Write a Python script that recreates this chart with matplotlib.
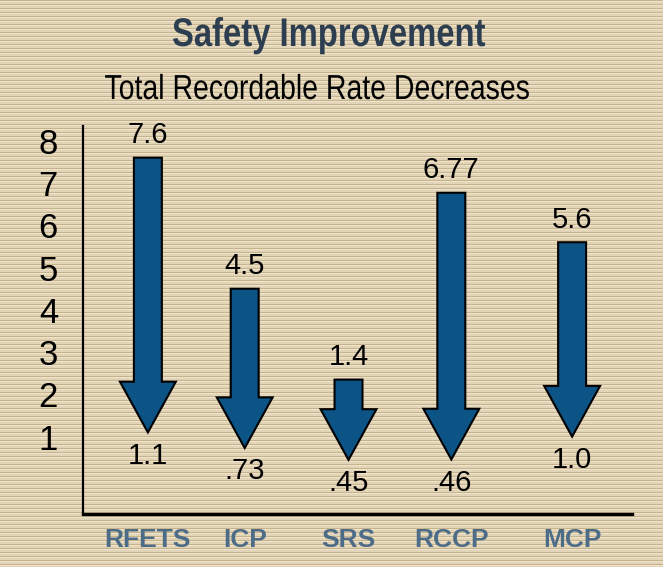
import numpy as np
import matplotlib
matplotlib.use("Agg")
import matplotlib.pyplot as plt
from matplotlib.patches import FancyArrow, PathPatch
from matplotlib.textpath import TextPath
from matplotlib.font_manager import FontProperties
from matplotlib.transforms import Affine2D
from matplotlib.colors import to_rgb

# data
sites = ["RFETS", "ICP", "SRS", "RCCP", "MCP"]
rate_before = [7.6, 4.5, 1.4, 6.77, 5.6]
rate_after = [1.1, 0.73, 0.45, 0.46, 1.0]
before_labels = ["7.6", "4.5", "1.4", "6.77", "5.6"]
after_labels = ["1.1", ".73", ".45", ".46", "1.0"]
yticks = [1, 2, 3, 4, 5, 6, 7, 8]

W, H = 663, 567
fig = plt.figure(figsize=(W / 100, H / 100), dpi=100)

# striped beige background
stripe = [to_rgb(c) for c in ["#c7b28a", "#ede4d0", "#e1d4b7", "#e1d4b7"]]
rows = np.array([stripe[i % 4] for i in range(H)]).reshape(H, 1, 3)
bg = fig.add_axes([0, 0, 1, 1], zorder=-1)
bg.imshow(rows, aspect="auto", interpolation="nearest")
bg.set_axis_off()

sans = ["Liberation Sans", "DejaVu Sans"]


def narrow_text(s, cx, baseline, size_px, weight, color, squeeze=0.82):
    # no narrow font installed: squeeze a text path horizontally
    prop = FontProperties(family="Liberation Sans", weight=weight)
    tp = TextPath((0, 0), s, size=size_px, prop=prop)
    ext = tp.get_extents()
    w = ext.width * squeeze
    tr = Affine2D().scale(squeeze, 1).translate(cx - w / 2 - ext.x0 * squeeze, H - baseline)
    fig.add_artist(PathPatch(tr.transform_path(tp), facecolor=color, edgecolor="none",
                             transform=None))


narrow_text("Safety Improvement", 329, 46, 40, "bold", "#2c3e50")
narrow_text("Total Recordable Rate Decreases", 317, 99, 34.7, "normal", "black")

# main axes: pixel box x 83..632, y 126..514
ax = fig.add_axes([83 / W, 1 - 514 / H, (632 - 83) / W, (514 - 126) / H])
ax.set_facecolor("none")
ax.set_xlim(0, 5.5)
ax.set_ylim(-0.83, 8.35)

xpos = [0.65, 1.62, 2.66, 3.69, 4.9]
head_len = 1.2
for x, top, bot, tl, bl in zip(xpos, rate_before, rate_after, before_labels, after_labels):
    start = max(top, bot + 1.9)  # keep short arrows long enough to show the head
    arr = FancyArrow(x, start, 0, bot - start, width=0.28, head_width=0.56,
                     head_length=head_len, length_includes_head=True,
                     facecolor="#0c5386", edgecolor="black", linewidth=1.5,
                     joinstyle="miter")
    ax.add_patch(arr)
    ax.text(x, start + 0.2, tl, ha="center", va="bottom", fontsize=21, family=sans)
    ax.text(x, bot - 0.22, bl, ha="center", va="top", fontsize=21, family=sans)

for s in ["top", "right"]:
    ax.spines[s].set_visible(False)
ax.spines["left"].set_linewidth(1.6)
ax.spines["bottom"].set_linewidth(2.4)

ax.set_yticks(yticks)
ax.set_yticklabels([str(t) for t in yticks], fontsize=25, family=sans)
ax.tick_params(axis="y", length=0, pad=18)

ax.set_xticks(xpos)
ax.set_xticklabels(sites, fontsize=19, fontweight="bold", color="#4d6c88", family=sans)
ax.tick_params(axis="x", length=0, pad=10)

fig.savefig("out.png", dpi=100)
